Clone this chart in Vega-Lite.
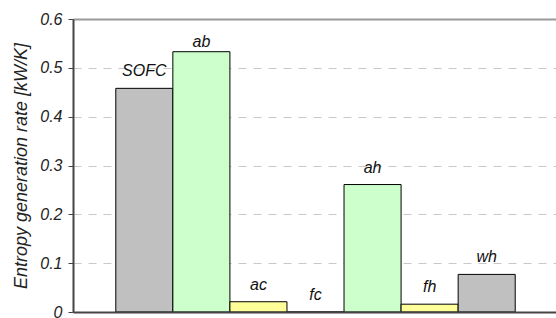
{
  "$schema": "https://vega.github.io/schema/vega-lite/v6.json",
  "autosize": "none",
  "padding": {"left": 73, "top": 19, "right": 0, "bottom": 6},
  "width": 485,
  "height": 293,
  "background": "white",
  "config": {
    "view": {"stroke": null},
    "font": "Liberation Sans"
  },
  "data": {
    "values": [
      {"name": "SOFC", "rate": 0.458},
      {"name": "ab", "rate": 0.533},
      {"name": "ac", "rate": 0.021},
      {"name": "fc", "rate": 0.0},
      {"name": "ah", "rate": 0.261},
      {"name": "fh", "rate": 0.016},
      {"name": "wh", "rate": 0.077}
    ]
  },
  "encoding": {
    "x": {
      "field": "name",
      "type": "nominal",
      "sort": null,
      "scale": {"paddingInner": 0, "paddingOuter": 0.75},
      "axis": {
        "title": null,
        "labels": false,
        "ticks": false,
        "domainColor": "#444444",
        "domainWidth": 2,
        "zindex": 1
      }
    },
    "y": {
      "field": "rate",
      "type": "quantitative",
      "scale": {"domain": [0, 0.6], "nice": false},
      "axis": {
        "title": "Entropy generation rate [kW/K]",
        "titleFont": "Liberation Sans",
        "titleFontStyle": "italic",
        "titleFontWeight": "normal",
        "titleFontSize": 18,
        "titleColor": "#222222",
        "titlePadding": 9,
        "values": [0, 0.1, 0.2, 0.3, 0.4, 0.5, 0.6],
        "format": "~g",
        "labelFont": "Liberation Sans",
        "labelFontStyle": "italic",
        "labelFontSize": 16,
        "labelColor": "#222222",
        "labelPadding": 6,
        "tickSize": 5,
        "tickColor": "#444444",
        "tickWidth": 1,
        "domainColor": "#444444",
        "domainWidth": 2,
        "grid": true,
        "gridColor": {"condition": {"test": "datum.value >= 0.59", "value": "#999999"}, "value": "#c8c8c8"},
        "gridWidth": {"condition": {"test": "datum.value >= 0.59", "value": 2}, "value": 1},
        "gridDash": {"condition": {"test": "datum.value >= 0.59", "value": []}, "value": [8, 7]}
      }
    }
  },
  "layer": [
    {
      "mark": {"type": "bar", "stroke": "#000000", "strokeWidth": 1},
      "encoding": {
        "color": {
          "field": "name",
          "type": "nominal",
          "scale": {
            "domain": ["SOFC", "ab", "ac", "fc", "ah", "fh", "wh"],
            "range": ["#c0c0c0", "#ccffcc", "#ffff99", "#ffff99", "#ccffcc", "#ffff99", "#c0c0c0"]
          },
          "legend": null
        }
      }
    },
    {
      "transform": [{"filter": "datum.name !== 'ab'"}],
      "mark": {"type": "text", "baseline": "alphabetic", "dy": -12, "fontSize": 16, "fontStyle": "italic", "color": "#111111"},
      "encoding": {"text": {"field": "name"}}
    },
    {
      "transform": [{"filter": "datum.name === 'ab'"}],
      "mark": {"type": "text", "baseline": "alphabetic", "dy": -5, "fontSize": 16, "fontStyle": "italic", "color": "#111111"},
      "encoding": {"text": {"field": "name"}}
    }
  ]
}
